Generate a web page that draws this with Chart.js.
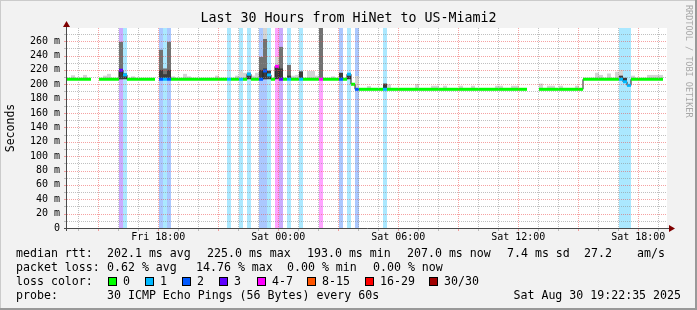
<!DOCTYPE html>
<html lang="en">
<head>
<meta charset="UTF-8">
<title>Last 30 Hours from HiNet to US-Miami2</title>
<script src="https://cdn.jsdelivr.net/npm/chart.js"></script>
<style>
  html, body { margin: 0; padding: 0; background: #f2f2f2; }
  #wrap { width: 697px; height: 310px; }
</style>
</head>
<body>
<div id="wrap"><canvas id="smokeChart"></canvas></div>
<script>
// the graph is 150 rows of 12 minutes (30 hours); x is hours since Fri 00:00
const firstRowHour = 13.435;
const rowHours = 0.2;
const rowCount = 150;
const yMax = 278.3;

// median rtt (ms) as runs of rows: [first row, last row, ms]
const medianRuns = [
  [0, 5, 207], [8, 12, 207], [13, 13, 219.5], [14, 14, 213], [15, 21, 207],
  [23, 44, 207], [45, 45, 214], [46, 48, 207], [49, 49, 218.5], [50, 50, 213],
  [51, 51, 207], [52, 52, 225], [53, 69, 207], [70, 70, 214], [71, 71, 200],
  [72, 114, 193], [118, 128, 193], [129, 138, 207], [139, 139, 203.5],
  [140, 140, 198.5], [141, 148, 207]
];

// rows with packet loss: [row, loss colour index]
const lossRows = [
  [13, 3], [14, 1], [23, 2], [24, 1], [25, 2], [40, 1], [43, 1], [45, 1],
  [48, 2], [49, 2], [50, 1], [52, 4], [53, 3], [55, 1], [58, 1], [63, 4],
  [68, 2], [70, 1], [72, 2], [79, 1], [138, 1], [139, 1], [140, 1]
];

// tall smoke: [row, lowest ping, dark top, grey top, pale top]
const smokeSpikes = [
  [13, 207, 220, 259, null], [14, 207, 215, null, null],
  [23, 207, 220, 248, null], [24, 207, 214, 222, null],
  [25, 207, 220, 259, null], [45, 207, 216, null, null],
  [48, 207, 220, 238, null], [49, 207, 222, 263, 278.3],
  [50, 207, 219, null, null], [52, 207, 226, null, 238],
  [53, 207, 222, 252, null], [55, 207, 212, 227, null],
  [58, 207, 218, null, null], [63, 207, null, 278.3, null],
  [68, 207, 216, null, null], [70, 207, 214, null, null],
  [72, 193, null, null, 211.5], [79, 193, 201, null, null],
  [138, 207, 212, null, 220], [139, 203, 209, null, null]
];

// faint smoke just above the median: [row, top ms]
const paleSmoke = [
  [1, 212.5], [4, 213], [9, 212], [10, 214.5], [16, 211], [26, 211], [29, 214.5],
  [30, 211], [37, 212], [42, 212], [43, 218], [44, 216], [46, 212], [47, 216],
  [56, 212], [57, 213], [60, 218.5], [61, 218.5], [62, 212], [66, 211],
  [75, 197.5], [80, 200], [87, 200.5], [91, 198], [92, 198], [94, 198], [98, 198],
  [101, 198], [107, 198], [108, 198], [111, 198], [112, 198], [118, 201],
  [120, 198], [121, 198], [123, 198], [127, 198], [132, 216], [133, 213],
  [135, 215], [137, 217.5], [141, 212], [145, 213], [146, 213], [147, 213], [148, 213]
];

const xTickHours = [18, 24, 30, 36, 42];
const xTickLabels = ['Fri 18:00', 'Sat 00:00', 'Sat 06:00', 'Sat 12:00', 'Sat 18:00'];
const yTickValues = [0, 20, 40, 60, 80, 100, 120, 140, 160, 180, 200, 220, 240, 260];

const lossLabels = ['0', '1', '2', '3', '4-7', '8-15', '16-29', '30/30'];
const lossColors = ['#00ff00', '#00b8ff', '#0059ff', '#5e00ff', '#ff00ff', '#ff5500', '#ff0000', '#a00000'];
const bandColors = ['rgba(0,255,0,0.33)', 'rgba(0,184,255,0.33)', 'rgba(0,89,255,0.33)',
  'rgba(94,0,255,0.33)', 'rgba(255,0,255,0.36)', 'rgba(255,85,0,0.33)',
  'rgba(255,0,0,0.33)', 'rgba(160,0,0,0.33)'];

const rttStats = ['202.1 ms avg', '225.0 ms max', '193.0 ms min', '207.0 ms now', '7.4 ms sd', '27.2', 'am/s'];
const lossStats = ['0.62 % avg', '14.76 % max', '0.00 % min', '0.00 % now'];
const probeText = '30 ICMP Echo Pings (56 Bytes) every 60s';
const stampText = 'Sat Aug 30 19:22:35 2025';

// ---- build the per-row tables ----
const median = new Array(rowCount).fill(null);
medianRuns.forEach(([a, b, v]) => { for (let i = a; i <= b; i++) median[i] = v; });
const lossOf = new Array(rowCount).fill(0);
lossRows.forEach(([i, c]) => { lossOf[i] = c; });
const rowX = i => firstRowHour + rowHours * (i + 0.5);

const medianIdx = median.map((v, i) => i).filter(i => median[i] !== null);

const paleData = paleSmoke.map(([i, top]) => ({x: rowX(i), y: [median[i], top]}))
  .concat(smokeSpikes.filter(s => s[4] !== null).map(s => ({x: rowX(s[0]), y: [s[1], s[4]]})));
const greyData = smokeSpikes.filter(s => s[3] !== null).map(s => ({x: rowX(s[0]), y: [s[1], s[3]]}));
const darkData = smokeSpikes.filter(s => s[2] !== null).map(s => ({x: rowX(s[0]), y: [s[1], s[2]]}));

const barCommon = {type: 'bar', grouped: false, barPercentage: 1, categoryPercentage: 1,
  borderWidth: 0, inflateAmount: 0};

const frame = {
  id: 'frame',
  beforeDraw(chart) {
    const {ctx, width, height, chartArea: a} = chart;
    ctx.save();
    ctx.fillStyle = '#f2f2f2';
    ctx.fillRect(0, 0, width, height);
    ctx.fillStyle = '#cbcbcb';
    ctx.fillRect(0, 0, width, 1);
    ctx.fillRect(0, 0, 1, height);
    ctx.fillStyle = '#999999';
    ctx.fillRect(0, height - 2, width, 2);
    ctx.fillRect(width - 2, 0, 2, height);
    ctx.fillStyle = '#ffffff';
    ctx.fillRect(a.left, a.top, a.right - a.left, a.bottom - a.top);
    ctx.restore();
  },
  afterDatasetsDraw(chart) {
    const {ctx, chartArea: a} = chart;
    const xs = chart.scales.x, ys = chart.scales.y;
    const minor = 'rgba(140,140,140,0.55)', major = 'rgba(235,70,70,0.5)';
    ctx.save();
    ctx.lineWidth = 1;
    for (let h = Math.ceil(xs.min); h <= xs.max; h++) {
      const px = Math.round(xs.getPixelForValue(h)) + 0.5;
      ctx.strokeStyle = h % 3 === 0 ? major : minor;
      ctx.setLineDash([1, 1]);
      ctx.beginPath(); ctx.moveTo(px, a.top); ctx.lineTo(px, a.bottom); ctx.stroke();
      ctx.setLineDash([]);
      ctx.beginPath(); ctx.moveTo(px, a.bottom); ctx.lineTo(px, a.bottom + 3); ctx.stroke();
    }
    for (let v = 10; v < yMax; v += 10) {
      const py = Math.round(ys.getPixelForValue(v)) + 0.5;
      ctx.strokeStyle = v % 20 === 0 ? major : minor;
      ctx.setLineDash([1, 1]);
      ctx.beginPath(); ctx.moveTo(a.left, py); ctx.lineTo(a.right, py); ctx.stroke();
      ctx.setLineDash([]);
      ctx.beginPath(); ctx.moveTo(a.left - 3, py); ctx.lineTo(a.left, py); ctx.stroke();
    }
    // axes and arrows
    ctx.strokeStyle = '#4a4a4a';
    ctx.beginPath();
    ctx.moveTo(a.left - 0.5, a.bottom + 3); ctx.lineTo(a.left - 0.5, a.top - 4);
    ctx.moveTo(a.left - 3, a.bottom + 0.5); ctx.lineTo(a.right + 4, a.bottom + 0.5);
    ctx.stroke();
    ctx.fillStyle = '#7f0000';
    ctx.beginPath();
    ctx.moveTo(a.left - 0.5, a.top - 7); ctx.lineTo(a.left - 4, a.top - 1); ctx.lineTo(a.left + 3, a.top - 1);
    ctx.closePath(); ctx.fill();
    ctx.beginPath();
    ctx.moveTo(a.right + 8, a.bottom + 0.5); ctx.lineTo(a.right + 2, a.bottom - 3); ctx.lineTo(a.right + 2, a.bottom + 4);
    ctx.closePath(); ctx.fill();
    ctx.restore();
  },
  afterDraw(chart) {
    const {ctx, width} = chart;
    ctx.save();
    ctx.font = '11.6px "DejaVu Sans Mono"';
    ctx.fillStyle = '#000';
    ctx.textBaseline = 'middle';
    const rows = [254, 268, 282, 296];
    ctx.fillText('median rtt:', 16, rows[0]);
    [107, 207, 307, 407, 507, 584, 637].forEach((x, k) => ctx.fillText(rttStats[k], x, rows[0]));
    ctx.fillText('packet loss:', 16, rows[1]);
    [107, 196, 287, 373].forEach((x, k) => ctx.fillText(lossStats[k], x, rows[1]));
    ctx.fillText('loss color:', 16, rows[2]);
    [108, 145, 182, 219, 257, 307, 365, 429].forEach((x, k) => {
      ctx.fillStyle = lossColors[k];
      ctx.fillRect(x, rows[2] - 5, 9, 9);
      ctx.strokeStyle = '#000';
      ctx.strokeRect(x + 0.5, rows[2] - 4.5, 8, 8);
      ctx.fillStyle = '#000';
      ctx.fillText(lossLabels[k], x + 15, rows[2]);
    });
    ctx.fillText('probe:', 16, rows[3]);
    ctx.fillText(probeText, 107, rows[3]);
    ctx.textAlign = 'right';
    ctx.fillText(stampText, 681, rows[3]);
    // rrdtool watermark
    ctx.textAlign = 'left';
    ctx.font = '8.5px "DejaVu Sans Mono"';
    ctx.fillStyle = '#a8a8a8';
    ctx.translate(width - 9, 5);
    ctx.rotate(Math.PI / 2);
    ctx.fillText('RRDTOOL / TOBI OETIKER', 0, 0);
    ctx.restore();
  }
};

Chart.defaults.font.family = '"DejaVu Sans Mono"';
Chart.defaults.color = '#000';

new Chart(document.getElementById('smokeChart'), {
  type: 'bar',
  data: {
    datasets: [
      Object.assign({}, barCommon, {
        label: 'median', order: 1,
        data: medianIdx.map(i => ({x: rowX(i), y: [median[i] - 2.1, median[i] + 2.1]})),
        backgroundColor: medianIdx.map(i => lossColors[lossOf[i]])
      }),
      {
        type: 'line', label: 'median step', order: 2,
        data: median.map((v, i) => ({x: rowX(i), y: v})),
        stepped: 'middle', borderColor: '#202020', borderWidth: 1,
        pointRadius: 0, spanGaps: false, fill: false
      },
      Object.assign({}, barCommon, {label: 'smoke dark', order: 3, data: darkData, backgroundColor: '#3c3c3c'}),
      Object.assign({}, barCommon, {label: 'smoke grey', order: 4, data: greyData, backgroundColor: '#727272'}),
      Object.assign({}, barCommon, {label: 'smoke pale', order: 5, data: paleData, backgroundColor: '#d4d4d4'}),
      Object.assign({}, barCommon, {
        label: 'loss', order: 6,
        data: lossRows.map(([i]) => ({x: rowX(i), y: [0, yMax]})),
        backgroundColor: lossRows.map(([, c]) => bandColors[c])
      })
    ]
  },
  options: {
    responsive: true,
    maintainAspectRatio: false,
    devicePixelRatio: 1,
    animation: false,
    events: [],
    layout: {padding: 0},
    plugins: {
      legend: {display: false},
      tooltip: {enabled: false},
      title: {
        display: true,
        text: 'Last 30 Hours from HiNet to US-Miami2',
        color: '#000',
        font: {size: 13.3, weight: 'normal', lineHeight: 1},
        padding: {top: 12, bottom: 2.7}
      }
    },
    scales: {
      x: {
        type: 'linear',
        min: firstRowHour,
        max: firstRowHour + rowHours * rowCount,
        offset: false,
        grid: {display: false, drawTicks: false},
        border: {display: false},
        afterBuildTicks: s => { s.ticks = xTickHours.map(v => ({value: v})); },
        afterFit: s => { s.height = 82; },
        ticks: {
          autoSkip: false, maxRotation: 0, padding: 3,
          font: {size: 10},
          callback: v => xTickLabels[xTickHours.indexOf(v)]
        }
      },
      y: {
        min: 0,
        max: yMax,
        grid: {display: false, drawTicks: false},
        border: {display: false},
        afterBuildTicks: s => { s.ticks = yTickValues.map(v => ({value: v})); },
        afterFit: s => { s.width = 67; },
        ticks: {
          padding: 7,
          font: {size: 10},
          callback: v => (v === 0 ? '0' : v + ' m')
        },
        title: {
          display: true, text: 'Seconds',
          font: {size: 11.5}, padding: {top: 4, bottom: 0}
        }
      },
      // empty right margin so the title centres on the whole image
      yRight: {
        position: 'right',
        min: 0,
        max: yMax,
        grid: {display: false, drawTicks: false},
        border: {display: false},
        ticks: {display: false},
        afterFit: s => { s.width = 30; }
      }
    }
  },
  plugins: [frame]
});
</script>
</body>
</html>
